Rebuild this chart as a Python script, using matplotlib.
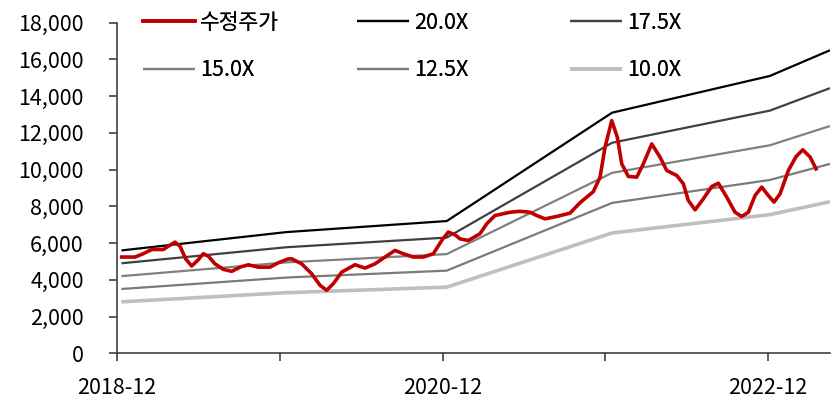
import matplotlib
matplotlib.use("Agg")
import matplotlib.pyplot as plt
import matplotlib.ticker as mticker
import pandas as pd

plt.rcParams['font.family'] = ['Noto Sans CJK KR', 'DejaVu Sans']
plt.rcParams['font.size'] = 15.5

base = pd.Timestamp('2018-12-01')

# 수정주가: days after 2018-12-01 and price
price_days = [10.5, 40.4, 59.0, 77.9, 103.9, 115.1, 130.1, 141.4, 154.2, 167.6,
              181.1, 193.7, 204.9, 219.9, 238.6, 257.4, 276.0, 294.7, 317.1, 343.4,
              362.0, 384.4, 392.1, 414.5, 436.9, 455.6, 470.6, 485.4, 504.3, 534.1,
              556.6, 579.0, 601.4, 623.9, 642.5, 665.0, 687.4, 709.8, 728.7, 743.5,
              758.5, 769.8, 788.4, 814.6, 829.7, 848.3, 882.0, 904.4, 926.9, 941.9,
              960.5, 986.8, 1016.6, 1039.1, 1068.9, 1084.0, 1095.2, 1110.2, 1122.8, 1132.7,
              1147.5, 1166.3, 1181.1, 1200.0, 1218.6, 1233.7, 1256.1, 1270.9, 1282.1, 1297.2,
              1315.8, 1334.6, 1349.4, 1368.3, 1386.9, 1401.9, 1416.8, 1431.8, 1446.8, 1461.6,
              1474.4, 1487.9, 1506.5, 1523.8, 1538.9, 1555.5, 1568.7]
price = [5240, 5240, 5420, 5650, 5650, 5830, 6050, 5830, 5140, 4750,
         5060, 5420, 5290, 4870, 4570, 4460, 4690, 4820, 4690, 4690,
         4930, 5140, 5140, 4870, 4330, 3700, 3430, 3790, 4420, 4820,
         4640, 4870, 5240, 5600, 5420, 5240, 5240, 5420, 6140, 6600,
         6450, 6230, 6140, 6510, 7050, 7500, 7680, 7730, 7680, 7500,
         7320, 7450, 7630, 8200, 8800, 9590, 11220, 12670, 11760, 10310,
         9630, 9590, 10310, 11400, 10680, 9950, 9680, 9230, 8320, 7810,
         8410, 9080, 9260, 8500, 7680, 7450, 7680, 8590, 9050, 8590,
         8230, 8680, 9950, 10710, 11080, 10680, 10040]

# PER band knots
band_days = [10, 381, 740, 1111, 1465, 1600]
eps = [280, 330, 360, 655, 755, 825]
multiples = [20.0, 17.5, 15.0, 12.5, 10.0]
band_labels = ['20.0X', '17.5X', '15.0X', '12.5X', '10.0X']
band_colors = ['#000000', '#404040', '#808080', '#7a7a7a', '#bfbfbf']
band_widths = [1.6, 1.6, 1.6, 1.6, 2.6]

tick_dates = ['2018-12', '2019-12', '2020-12', '2021-12', '2022-12']
tick_labels = ['2018-12', '', '2020-12', '', '2022-12']

px = base + pd.to_timedelta(price_days, unit='D')
bx = base + pd.to_timedelta(band_days, unit='D')

fig = plt.figure(figsize=(8.32, 4.01), dpi=100)
ax = fig.add_axes([0.1406, 0.1190, 0.8570, 0.8244])

band_lines = []
for m, lab, c, w in zip(multiples, band_labels, band_colors, band_widths):
    ln, = ax.plot(bx, [e * m for e in eps], color=c, lw=w, label=lab,
                  solid_joinstyle='round', solid_capstyle='butt')
    band_lines.append(ln)
price_line, = ax.plot(px, price, color='#c00000', lw=2.6, label='수정주가',
                      solid_joinstyle='round')

ax.set_ylim(0, 18000)
ax.set_xlim(base, base + pd.Timedelta(days=1600))
ax.yaxis.set_major_locator(mticker.MultipleLocator(2000))
ax.yaxis.set_major_formatter(mticker.FuncFormatter(lambda v, p: f'{int(v):,}'))

ax.set_xticks(pd.to_datetime(tick_dates))
ax.set_xticklabels(tick_labels)

for s in ['top', 'right']:
    ax.spines[s].set_visible(False)
for s in ['left', 'bottom']:
    ax.spines[s].set_color('#404040')
    ax.spines[s].set_linewidth(1.2)
ax.tick_params(axis='both', direction='out', length=6, width=1.2, color='#404040')
ax.tick_params(axis='y', pad=18)
ax.tick_params(axis='x', pad=11)

# legend: three columns, built as separate legends
cols = [([price_line, band_lines[2]], 0.1719),
        ([band_lines[0], band_lines[3]], 0.4291),
        ([band_lines[1], band_lines[4]], 0.6851)]
for handles, xpos in cols:
    leg = fig.legend(handles=handles, loc='upper left', bbox_to_anchor=(xpos, 0.970),
                     frameon=False, borderpad=0, borderaxespad=0, handlelength=2.4,
                     handletextpad=0.25, labelspacing=1.17)
    fig.add_artist(leg)

fig.savefig('out.png', dpi=100)
